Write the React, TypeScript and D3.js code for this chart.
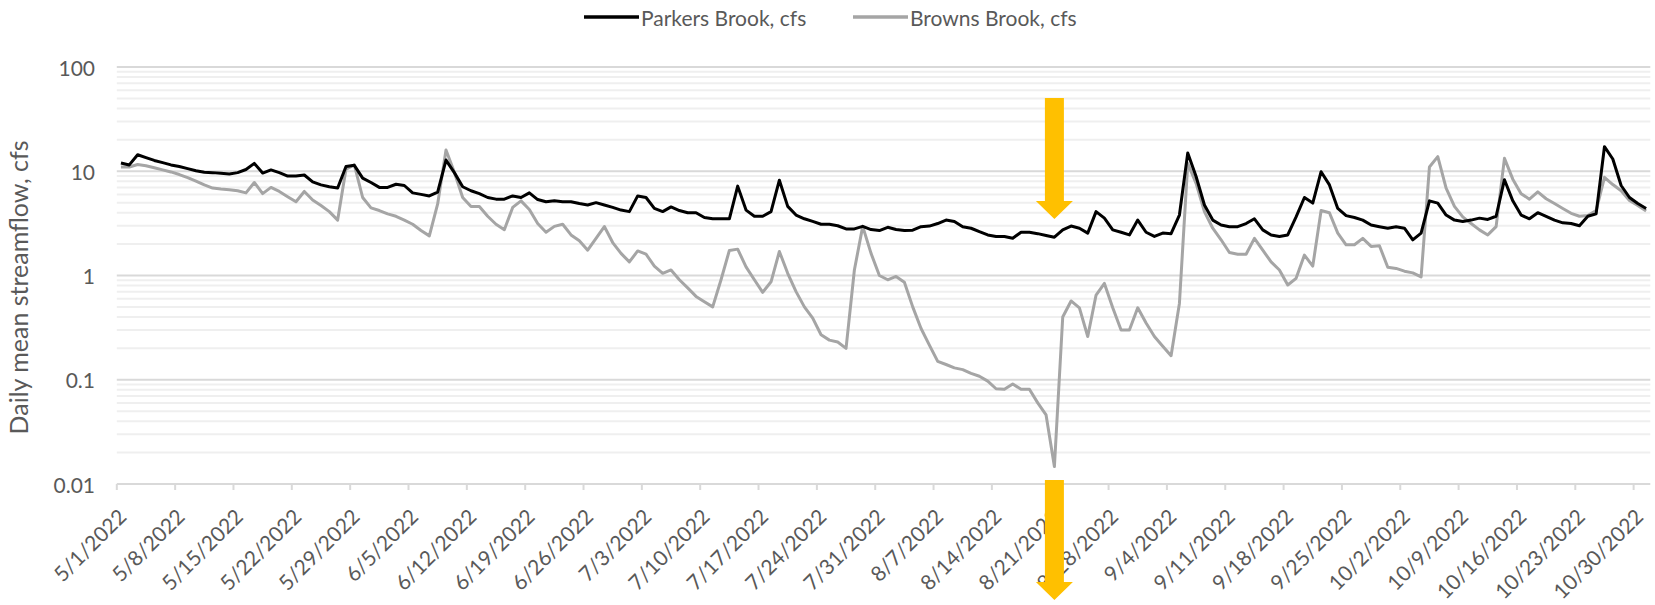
import React from 'react';
import * as d3 from 'd3';

// daily mean streamflow, one value per day starting 5/1/2022
const startDate = '5/1/2022';

const parkersBrook = [
  12.0, 11.5, 14.4, 13.5, 12.7, 12.1, 11.5, 11.1, 10.6, 10.1, 9.8, 9.7, 9.55, 9.4, 9.7, 10.4,
  11.9, 9.6, 10.3, 9.7, 9.0, 9.0, 9.2, 7.9, 7.4, 7.1, 6.9,
  11.1, 11.4, 8.6, 7.8, 7.0, 7.0, 7.5, 7.3, 6.2, 6.0,
  5.8, 6.3, 12.8, 9.7, 7.1, 6.5, 6.1, 5.6, 5.4, 5.4,
  5.8, 5.6, 6.2, 5.35, 5.1, 5.2, 5.1, 5.1, 4.9, 4.75,
  5.0, 4.75, 4.5, 4.24, 4.1, 5.8, 5.6, 4.4, 4.1, 4.55,
  4.2, 4.0, 4.0, 3.6, 3.5, 3.5, 3.5, 7.2, 4.24, 3.7,
  3.7, 4.1, 8.2, 4.6, 3.8, 3.5, 3.3, 3.1, 3.1, 3.0,
  2.8, 2.8, 2.96, 2.76, 2.7, 2.9, 2.76, 2.7, 2.72, 2.94,
  2.98, 3.15, 3.4, 3.3, 2.94, 2.84, 2.63, 2.45, 2.37, 2.37,
  2.28, 2.6, 2.6, 2.52, 2.42, 2.33, 2.74, 2.98, 2.84, 2.55,
  4.1, 3.55, 2.74, 2.6, 2.45, 3.4, 2.6, 2.37, 2.55, 2.52,
  3.8, 15.0, 8.9, 4.75, 3.4, 3.05, 2.94, 2.94, 3.15, 3.5,
  2.74, 2.45, 2.37, 2.45, 3.65, 5.6, 4.95, 9.9, 7.4, 4.4,
  3.75, 3.6, 3.4, 3.05, 2.94, 2.84, 2.94, 2.84, 2.2, 2.55,
  5.2, 4.95, 3.8, 3.4, 3.3, 3.4, 3.55, 3.45, 3.7, 8.3,
  5.2, 3.8, 3.5, 4.0, 3.7, 3.4, 3.2, 3.15, 3.0, 3.7,
  3.9, 17.2, 13.1, 7.3, 5.6, 4.9, 4.4,
];

const brownsBrook = [
  11.0, 11.0, 11.6, 11.3, 10.8, 10.3, 9.85, 9.3, 8.7, 8.05, 7.4, 6.9, 6.75, 6.65, 6.5, 6.2,
  7.8, 6.1, 7.0, 6.4, 5.7, 5.1, 6.4, 5.3, 4.7, 4.1, 3.4,
  10.5, 11.5, 5.6, 4.45, 4.2, 3.9, 3.7, 3.4, 3.1, 2.7,
  2.4, 4.86, 16, 9.8, 5.6, 4.6, 4.6, 3.7, 3.1, 2.75,
  4.5, 5.2, 4.3, 3.15, 2.6, 2.96, 3.1, 2.45, 2.15, 1.75,
  2.27, 2.95, 2.07, 1.63, 1.35, 1.72, 1.6, 1.23, 1.05, 1.13,
  0.91, 0.76, 0.63, 0.56, 0.5, 0.91, 1.74, 1.79, 1.21, 0.91,
  0.69, 0.87, 1.7, 1.05, 0.7, 0.5, 0.39, 0.27, 0.24, 0.23,
  0.2, 1.13, 2.96, 1.63, 1.0, 0.91, 0.98, 0.86, 0.5, 0.31,
  0.215, 0.15, 0.14, 0.13, 0.125, 0.115, 0.108, 0.097, 0.082, 0.081,
  0.091, 0.081, 0.081, 0.06, 0.046, 0.0147, 0.4, 0.57, 0.49, 0.26,
  0.65, 0.84, 0.49, 0.3, 0.3, 0.49, 0.35, 0.26, 0.21, 0.17,
  0.54, 11.9, 7.65, 4.1, 2.84, 2.2, 1.66, 1.6, 1.6, 2.27,
  1.75, 1.35, 1.13, 0.81, 0.94, 1.57, 1.23, 4.2, 4.0, 2.55,
  1.97, 1.97, 2.27, 1.9, 1.93, 1.2, 1.17, 1.1, 1.06, 0.97,
  11.0, 13.8, 6.9, 4.6, 3.65, 3.15, 2.74, 2.45, 2.94, 13.3,
  8.4, 6.1, 5.4, 6.35, 5.45, 4.9, 4.4, 3.95, 3.7, 3.76,
  4.2, 8.75, 7.45, 6.5, 5.25, 4.7, 4.15,
];

const tickLabels = [
  '5/1/2022', '5/8/2022', '5/15/2022', '5/22/2022', '5/29/2022', '6/5/2022', '6/12/2022',
  '6/19/2022', '6/26/2022', '7/3/2022', '7/10/2022', '7/17/2022', '7/24/2022', '7/31/2022',
  '8/7/2022', '8/14/2022', '8/21/2022', '8/28/2022', '9/4/2022', '9/11/2022', '9/18/2022',
  '9/25/2022', '10/2/2022', '10/9/2022', '10/16/2022', '10/23/2022', '10/30/2022',
];

const yTicks = [0.01, 0.1, 1, 10, 100];
const seriesNames = ['Parkers Brook, cfs', 'Browns Brook, cfs'];
const seriesColors = ['#000000', '#a5a5a5'];
const yTitle = 'Daily mean streamflow, cfs';
const lowFlowDate = '8/21/2022'; // arrows mark this day

const width = 1655;
const height = 605;
const plotLeft = 116.8;
const plotRight = 1650.3;
const plotTop = 67;
const plotBottom = 484;
const font = 'Lato, "Open Sans", sans-serif';
const textColor = '#595959';

const parse = d3.timeParse('%m/%d/%Y');

const App: React.FC = () => {
  const start = parse(startDate) as Date;
  const end = d3.timeDay.offset(start, parkersBrook.length);

  const x = d3.scaleTime().domain([start, end]).range([plotLeft, plotRight]);
  const y = d3.scaleLog().domain([0.01, 100]).range([plotBottom, plotTop]);

  // each daily value sits in the middle of its day
  const dayX = (i: number) => x(d3.timeHour.offset(d3.timeDay.offset(start, i), 12));

  const line = d3
    .line<number>()
    .x((_, i) => dayX(i))
    .y((v) => y(v));

  const minorTicks: number[] = [];
  yTicks.slice(0, -1).forEach((t) => {
    for (let m = 2; m <= 9; m++) minorTicks.push(t * m);
  });

  const lowDay = d3.timeDay.count(start, parse(lowFlowDate) as Date);
  const ax = dayX(lowDay);
  const shaftW = 9.5;
  const headW = 18.5;
  const arrow = (top: number, headStart: number, tip: number) =>
    `M${ax - shaftW},${top}L${ax + shaftW},${top}L${ax + shaftW},${headStart}L${ax + headW},${headStart}` +
    `L${ax},${tip}L${ax - headW},${headStart}L${ax - shaftW},${headStart}Z`;

  const legendY = 17;
  const legendItems = [
    { x: 584, textX: 641 },
    { x: 853, textX: 910 },
  ];

  return (
    <svg
      width={width}
      height={height}
      style={{ position: 'absolute', left: 0, top: 0, background: '#fff' }}
      fontFamily={font}
    >
      {/* gridlines */}
      <g>
        {minorTicks.map((t) => (
          <line key={t} x1={plotLeft} x2={plotRight} y1={y(t)} y2={y(t)} stroke='#efefef' strokeWidth={2} />
        ))}
        {yTicks.slice(1).map((t) => (
          <line key={t} x1={plotLeft} x2={plotRight} y1={y(t)} y2={y(t)} stroke='#d9d9d9' strokeWidth={2} />
        ))}
      </g>

      {/* x axis */}
      <g>
        <line x1={plotLeft} x2={plotRight} y1={plotBottom} y2={plotBottom} stroke='#d9d9d9' strokeWidth={2} />
        {tickLabels.map((lab) => {
          const tx = x(parse(lab) as Date);
          return (
            <g key={lab}>
              <line x1={tx} x2={tx} y1={plotBottom} y2={plotBottom + 6} stroke='#d9d9d9' strokeWidth={2} />
              <text
                transform={`translate(${tx + 5}, ${plotBottom + 28}) rotate(-45)`}
                textAnchor='end'
                dominantBaseline='central'
                fontSize={21}
                fill={textColor}
              >
                {lab}
              </text>
            </g>
          );
        })}
      </g>

      {/* y axis labels */}
      <g>
        {yTicks.map((t) => (
          <text
            key={t}
            x={95}
            y={y(t)}
            textAnchor='end'
            dominantBaseline='central'
            fontSize={21}
            fill={textColor}
          >
            {t}
          </text>
        ))}
        <text
          transform={`translate(18, ${(plotTop + plotBottom) / 2 + 12}) rotate(-90)`}
          textAnchor='middle'
          dominantBaseline='central'
          fontSize={25}
          fill={textColor}
        >
          {yTitle}
        </text>
      </g>

      {/* series */}
      <path d={line(brownsBrook) ?? ''} fill='none' stroke={seriesColors[1]} strokeWidth={3} strokeLinejoin='round' />
      <path d={line(parkersBrook) ?? ''} fill='none' stroke={seriesColors[0]} strokeWidth={3} strokeLinejoin='round' />

      {/* low-flow arrows */}
      <path d={arrow(98, 201, 219)} fill='#ffc000' />
      <path d={arrow(480, 582, 600)} fill='#ffc000' />

      {/* legend */}
      <g>
        {seriesNames.map((name, i) => (
          <g key={name}>
            <line
              x1={legendItems[i].x}
              x2={legendItems[i].x + 55}
              y1={legendY}
              y2={legendY}
              stroke={seriesColors[i]}
              strokeWidth={3.5}
            />
            <text x={legendItems[i].textX} y={legendY} dominantBaseline='central' fontSize={21} fill={textColor}>
              {name}
            </text>
          </g>
        ))}
      </g>
    </svg>
  );
};

export default App;
